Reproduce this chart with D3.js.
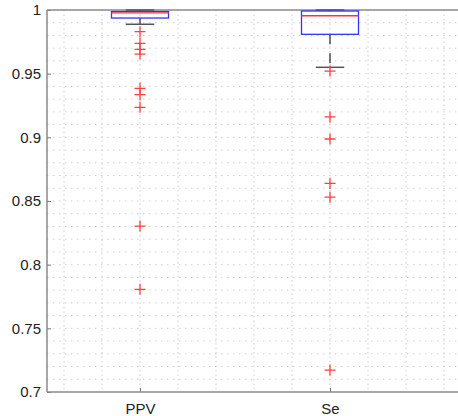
<!DOCTYPE html>
<html>
<head>
<meta charset="utf-8">
<script src="https://cdn.jsdelivr.net/npm/d3@7"></script>
<style>
  body { margin: 0; background: #fff; }
  svg { display: block; font-family: "Liberation Sans", Arial, sans-serif; }
</style>
</head>
<body>
<div id="chart"></div>
<script>
// box plot data
var categories = ["PPV", "Se"],
    q1 = [0.9937, 0.9809],
    medians = [0.9977, 0.9955],
    q3 = [0.9988, 0.9992],
    whiskerLow = [0.9888, 0.955],
    whiskerHigh = [1, 1],
    outliers = [
        [0.983, 0.9738, 0.9691, 0.9654, 0.9385, 0.9335, 0.9236, 0.8303, 0.7806],
        [0.952, 0.916, 0.8987, 0.8638, 0.853, 0.7172]
    ],
    yTicks = [0.7, 0.75, 0.8, 0.85, 0.9, 0.95, 1];

// note: "top" is window.top, so use plot* names
var width = 458, height = 416,
    plotLeft = 47, plotTop = 10, plotBottom = 392,
    boxHalf = 0.15, capHalf = 0.075, plusSize = 5.5;

var svg = d3.select("#chart").append("svg")
    .attr("width", width)
    .attr("height", height);

var x = d3.scaleLinear().domain([1, 2]).range([140, 330]),
    y = d3.scaleLinear().domain([0.7, 1]).range([plotBottom, plotTop]);

svg.append("defs").append("clipPath").attr("id", "plotclip")
    .append("rect").attr("x", plotLeft).attr("y", plotTop)
    .attr("width", width - plotLeft).attr("height", plotBottom - plotTop);

// grid (dotted, minor + major look the same)
var grid = svg.append("g").attr("clip-path", "url(#plotclip)");
grid.selectAll("line.hg")
    .data(d3.range(71, 100).map(function (d) { return d / 100; }))
    .enter().append("line")
    .attr("x1", plotLeft).attr("x2", width)
    .attr("y1", function (d) { return y(d); })
    .attr("y2", function (d) { return y(d); })
    .attr("stroke", "#cfcfcf")
    .attr("stroke-width", 1)
    .attr("stroke-dasharray", "1.5,4.5");
grid.selectAll("line.vg")
    .data(d3.range(3, 14).map(function (d) { return d / 5; }))
    .enter().append("line")
    .attr("y1", plotTop).attr("y2", plotBottom)
    .attr("x1", function (d) { return x(d); })
    .attr("x2", function (d) { return x(d); })
    .attr("stroke", "#cfcfcf")
    .attr("stroke-width", 1)
    .attr("stroke-dasharray", "1.5,3");

// axes
var yAxis = d3.axisLeft(y).tickValues(yTicks).tickSize(-4).tickPadding(6)
    .tickFormat(function (d) { return String(+d.toFixed(2)); });
var xAxis = d3.axisBottom(x).tickValues([1, 2]).tickSize(-4).tickPadding(11)
    .tickFormat(function (d) { return categories[d - 1]; });

var ya = svg.append("g").attr("transform", "translate(" + plotLeft + ",0)").call(yAxis);
var xa = svg.append("g").attr("transform", "translate(0," + plotBottom + ")").call(xAxis);
[ya, xa].forEach(function (g) {
    g.select(".domain").remove();
    g.selectAll(".tick line").attr("stroke", "#777").attr("stroke-width", 1);
    g.selectAll("text").attr("fill", "#222").style("font-size", "15px");
});

// frame: left, bottom, top
var frame = svg.append("g").attr("stroke", "#8a8a8a").attr("stroke-width", 1.5);
frame.append("line").attr("x1", plotLeft).attr("x2", plotLeft).attr("y1", plotTop).attr("y2", plotBottom);
frame.append("line").attr("x1", plotLeft).attr("x2", width).attr("y1", plotBottom).attr("y2", plotBottom);
frame.append("line").attr("x1", plotLeft).attr("x2", width).attr("y1", plotTop).attr("y2", plotTop);

// boxes
var idx = d3.range(categories.length);
var boxes = svg.selectAll("g.box").data(idx).enter().append("g").attr("class", "box");

// whiskers
boxes.append("line")
    .attr("x1", function (i) { return x(i + 1); })
    .attr("x2", function (i) { return x(i + 1); })
    .attr("y1", function (i) { return y(q1[i]); })
    .attr("y2", function (i) { return y(whiskerLow[i]); })
    .attr("stroke", "#333").attr("stroke-width", 1.3)
    .attr("stroke-dasharray", "10,9");
boxes.append("line")
    .attr("x1", function (i) { return x(i + 1); })
    .attr("x2", function (i) { return x(i + 1); })
    .attr("y1", function (i) { return y(q3[i]); })
    .attr("y2", function (i) { return y(whiskerHigh[i]); })
    .attr("stroke", "#333").attr("stroke-width", 1.3);
// caps
boxes.append("line")
    .attr("x1", function (i) { return x(i + 1 - capHalf); })
    .attr("x2", function (i) { return x(i + 1 + capHalf); })
    .attr("y1", function (i) { return y(whiskerLow[i]); })
    .attr("y2", function (i) { return y(whiskerLow[i]); })
    .attr("stroke", "#555").attr("stroke-width", 1.5);
boxes.append("line")
    .attr("x1", function (i) { return x(i + 1 - capHalf); })
    .attr("x2", function (i) { return x(i + 1 + capHalf); })
    .attr("y1", function (i) { return y(whiskerHigh[i]); })
    .attr("y2", function (i) { return y(whiskerHigh[i]); })
    .attr("stroke", "#555").attr("stroke-width", 1.5);
// box
boxes.append("rect")
    .attr("x", function (i) { return x(i + 1 - boxHalf); })
    .attr("width", function () { return x(1 + boxHalf) - x(1 - boxHalf); })
    .attr("y", function (i) { return y(q3[i]); })
    .attr("height", function (i) { return y(q1[i]) - y(q3[i]); })
    .attr("fill", "none")
    .attr("stroke", "#3333ff").attr("stroke-width", 1.3);
// median
boxes.append("line")
    .attr("x1", function (i) { return x(i + 1 - boxHalf); })
    .attr("x2", function (i) { return x(i + 1 + boxHalf); })
    .attr("y1", function (i) { return y(medians[i]); })
    .attr("y2", function (i) { return y(medians[i]); })
    .attr("stroke", "#ff3333").attr("stroke-width", 1.3);

// outliers as red plus signs
boxes.each(function (i) {
    d3.select(this).selectAll("path.out").data(outliers[i]).enter().append("path")
        .attr("class", "out")
        .attr("d", function (v) {
            var cx = x(i + 1), cy = y(v);
            return "M" + (cx - plusSize) + "," + cy + "H" + (cx + plusSize) +
                "M" + cx + "," + (cy - plusSize) + "V" + (cy + plusSize);
        })
        .attr("stroke", "#ff4040").attr("stroke-width", 1.3).attr("fill", "none");
});
</script>
</body>
</html>
